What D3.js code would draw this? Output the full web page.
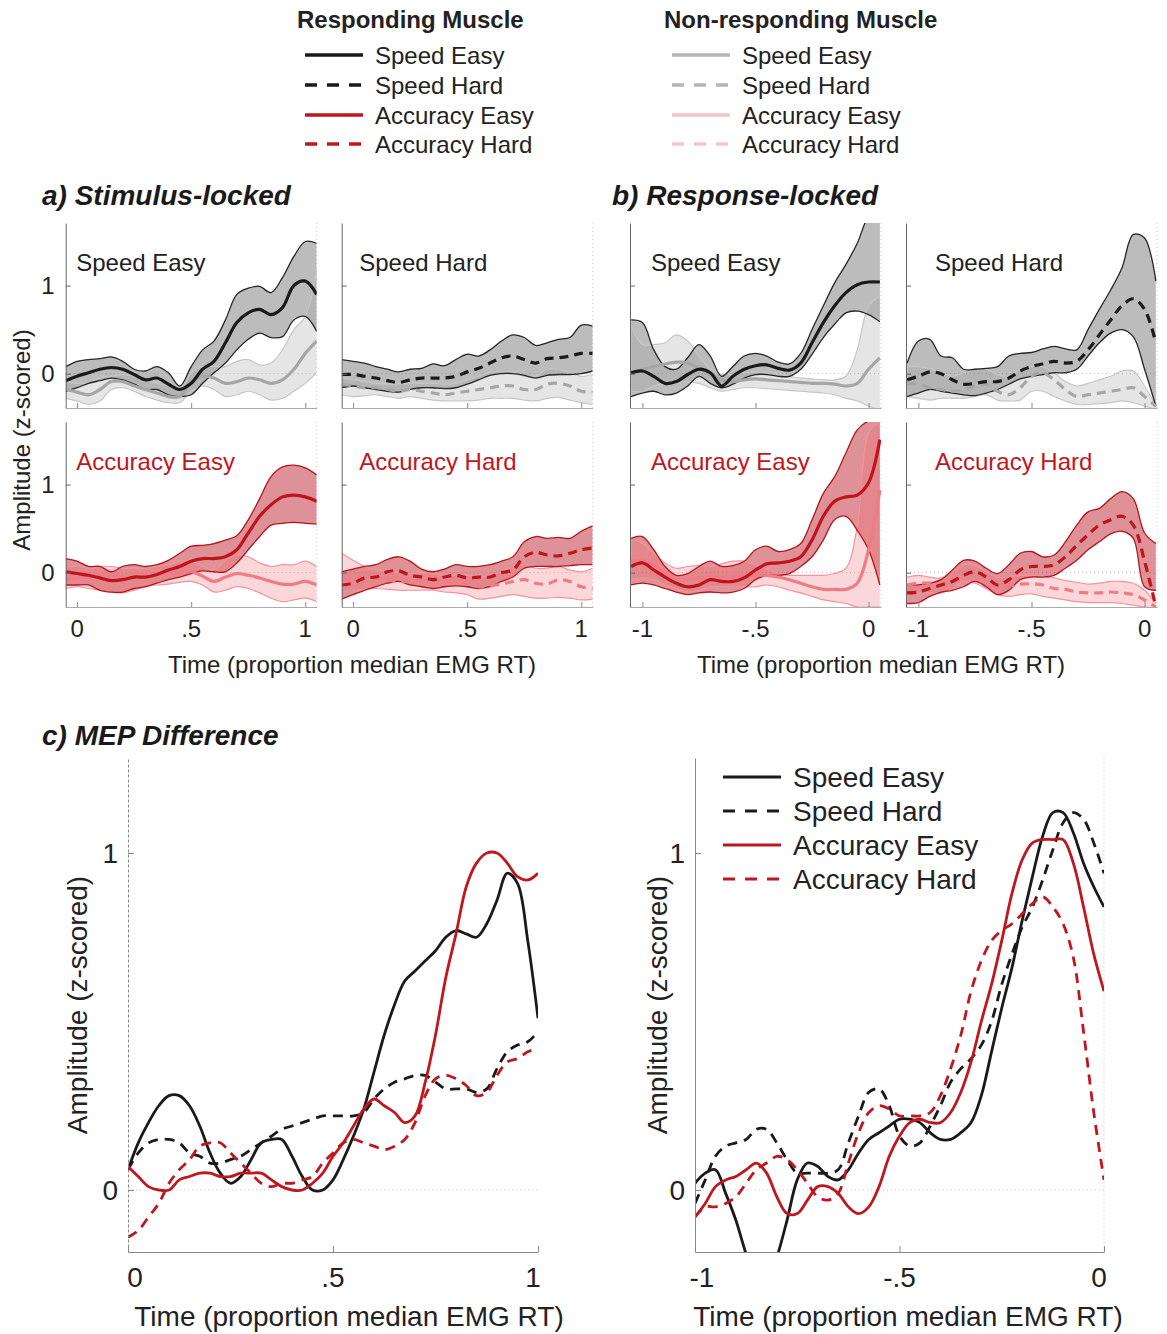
<!DOCTYPE html>
<html>
<head>
<meta charset="utf-8">
<script src="https://cdn.jsdelivr.net/npm/d3@7"></script>
<style>
  body { margin: 0; background: #fff; }
  svg { display: block; font-family: "Liberation Sans", Arial, Helvetica, sans-serif; }
</style>
</head>
<body>
<svg id="fig" width="1167" height="1334"></svg>
<script>
// ---- data ----
const conditions = ['Speed Easy', 'Speed Hard', 'Accuracy Easy', 'Accuracy Hard'];

// time grids (proportion of median EMG RT)
const tStim = [-0.05,0,0.05,0.1,0.15,0.2,0.25,0.3,0.35,0.4,0.45,0.5,0.55,0.6,0.65,0.7,0.75,0.8,0.85,0.9,0.95,1,1.05];
const tResp = [-1.05,-1,-0.95,-0.9,-0.85,-0.8,-0.75,-0.7,-0.65,-0.6,-0.55,-0.5,-0.45,-0.4,-0.35,-0.3,-0.25,-0.2,-0.15,-0.1,-0.05,0,0.05];

// a) stimulus-locked, speed easy
const aSEMean = [-0.08,-0.03,0.01,0.05,0.07,0.05,-0.01,-0.07,-0.05,-0.12,-0.18,-0.11,0.05,0.14,0.35,0.58,0.69,0.73,0.67,0.75,1.0,1.05,0.9];
const aSEHi   = [0.08,0.14,0.16,0.17,0.19,0.14,0.05,0.03,0.08,0.01,-0.14,0.08,0.27,0.37,0.61,0.9,0.97,0.99,0.92,1.09,1.33,1.5,1.48];
const aSELo   = [-0.2,-0.16,-0.11,-0.08,-0.05,-0.07,-0.12,-0.18,-0.18,-0.24,-0.26,-0.24,-0.11,0.01,0.12,0.27,0.39,0.46,0.41,0.42,0.61,0.65,0.48];
const aSENonMean = [-0.18,-0.21,-0.24,-0.18,-0.09,-0.09,-0.14,-0.18,-0.22,-0.26,-0.26,-0.09,-0.03,-0.05,-0.11,-0.09,-0.05,-0.07,-0.11,-0.07,0.05,0.23,0.37];
const aSENonHi   = [-0.09,-0.11,-0.11,-0.05,-0.03,-0.01,-0.03,-0.07,-0.11,-0.14,-0.18,0.01,0.08,0.08,0.08,0.14,0.16,0.1,0.12,0.27,0.5,0.65,1.18];
const aSENonLo   = [-0.28,-0.31,-0.35,-0.31,-0.18,-0.16,-0.2,-0.26,-0.3,-0.33,-0.33,-0.2,-0.14,-0.18,-0.26,-0.24,-0.2,-0.24,-0.3,-0.28,-0.2,-0.11,0.01];

// a) stimulus-locked, speed hard
const aSHMean = [-0.01,-0.01,-0.03,-0.05,-0.08,-0.1,-0.07,-0.05,-0.05,-0.05,-0.03,0.02,0.06,0.12,0.18,0.2,0.16,0.12,0.17,0.18,0.2,0.23,0.23];
const aSHHi   = [0.16,0.14,0.12,0.08,0.05,0.02,0.05,0.06,0.11,0.09,0.16,0.22,0.2,0.27,0.37,0.44,0.41,0.32,0.35,0.39,0.41,0.55,0.54];
const aSHLo   = [-0.16,-0.14,-0.16,-0.18,-0.2,-0.21,-0.18,-0.16,-0.16,-0.17,-0.16,-0.12,-0.07,-0.02,0,0,-0.02,-0.05,-0.02,-0.01,-0.01,0,0.03];
const aSHNonMean = [-0.12,-0.14,-0.16,-0.16,-0.18,-0.2,-0.18,-0.2,-0.22,-0.24,-0.22,-0.2,-0.18,-0.16,-0.14,-0.14,-0.18,-0.18,-0.12,-0.11,-0.14,-0.2,-0.21];
const aSHNonHi   = [-0.05,-0.07,-0.09,-0.11,-0.12,-0.12,-0.11,-0.11,-0.11,-0.12,-0.11,-0.07,-0.03,0.01,0.03,0.02,-0.03,-0.03,0.05,0.05,0.01,-0.03,-0.01];
const aSHNonLo   = [-0.24,-0.26,-0.25,-0.24,-0.26,-0.28,-0.26,-0.28,-0.3,-0.31,-0.31,-0.31,-0.3,-0.28,-0.28,-0.28,-0.3,-0.31,-0.28,-0.27,-0.3,-0.33,-0.35];

// a) stimulus-locked, accuracy easy
const aAEMean = [0.01,-0.01,-0.03,-0.06,-0.09,-0.08,-0.05,-0.05,-0.02,0.03,0.07,0.13,0.16,0.16,0.18,0.26,0.45,0.64,0.77,0.86,0.88,0.86,0.81];
const aAEHi   = [0.16,0.13,0.07,0.07,0.01,0.07,0.09,0.07,0.09,0.14,0.22,0.3,0.31,0.33,0.37,0.42,0.6,0.84,1.09,1.2,1.22,1.19,1.11];
const aAELo   = [-0.14,-0.14,-0.14,-0.2,-0.22,-0.22,-0.18,-0.16,-0.12,-0.08,-0.05,-0.01,0.02,0.01,0.01,0.11,0.26,0.41,0.54,0.56,0.57,0.56,0.55];
const aAENonMean = [-0.08,-0.06,-0.05,-0.03,-0.03,-0.05,-0.05,-0.03,-0.02,-0.01,0,0.01,-0.04,-0.1,-0.05,-0.01,-0.03,-0.06,-0.1,-0.13,-0.13,-0.1,-0.14];
const aAENonHi   = [0.07,0.07,0.05,0.07,0.07,0.05,0.05,0.05,0.07,0.09,0.13,0.13,0.07,0.03,0.14,0.2,0.18,0.11,0.07,0.09,0.09,0.13,0.07];
const aAENonLo   = [-0.18,-0.16,-0.18,-0.2,-0.22,-0.23,-0.2,-0.16,-0.14,-0.13,-0.11,-0.1,-0.14,-0.22,-0.2,-0.16,-0.18,-0.23,-0.29,-0.33,-0.31,-0.29,-0.33];

// a) stimulus-locked, accuracy hard
const aAHMean = [-0.14,-0.12,-0.06,-0.05,0.01,0.02,-0.03,-0.05,-0.08,-0.05,-0.03,-0.06,-0.05,-0.05,0,0.03,0.18,0.23,0.2,0.19,0.22,0.26,0.28];
const aAHHi   = [0.01,0.04,0.07,0.09,0.15,0.18,0.13,0.04,0.01,0.04,0.09,0.07,0.07,0.09,0.13,0.18,0.35,0.41,0.39,0.4,0.39,0.47,0.53];
const aAHLo   = [-0.3,-0.25,-0.2,-0.16,-0.12,-0.1,-0.14,-0.16,-0.18,-0.16,-0.15,-0.16,-0.18,-0.16,-0.1,-0.05,0.05,0.07,0.07,0.07,0.08,0.09,0.09];
const aAHNonMean = [-0.08,-0.06,-0.05,-0.06,-0.08,-0.1,-0.1,-0.08,-0.08,-0.1,-0.1,-0.12,-0.16,-0.15,-0.13,-0.1,-0.08,-0.12,-0.13,-0.08,-0.1,-0.16,-0.18];
const aAHNonHi   = [0.22,0.14,0.07,0.03,0.01,0,-0.01,0,-0.01,-0.03,-0.03,-0.03,-0.05,-0.03,0.01,0.07,0.09,0.05,0.05,0.07,0.03,0.01,0.05];
const aAHNonLo   = [-0.22,-0.2,-0.19,-0.18,-0.19,-0.2,-0.2,-0.2,-0.2,-0.22,-0.23,-0.25,-0.3,-0.29,-0.27,-0.25,-0.27,-0.29,-0.29,-0.28,-0.29,-0.31,-0.3];

// b) response-locked, speed easy
const bSEMean = [0.01,0.03,-0.03,-0.11,-0.09,-0.01,0.05,0.01,-0.14,-0.03,0.05,0.09,0.1,0.06,0.04,0.12,0.35,0.58,0.77,0.92,1.01,1.04,1.04];
const bSEHi   = [0.61,0.58,0.27,0.08,0.05,0.18,0.33,0.2,-0.03,0.08,0.2,0.23,0.2,0.13,0.11,0.23,0.5,0.77,1.03,1.24,1.48,1.79,1.9];
const bSELo   = [-0.26,-0.22,-0.2,-0.24,-0.22,-0.14,-0.03,-0.11,-0.16,-0.12,-0.05,-0.01,-0.01,-0.03,-0.03,0.05,0.22,0.41,0.56,0.69,0.71,0.67,0.59];
const bSENonMean = [0.01,0.05,0.08,0.11,0.13,0.12,0.06,-0.01,-0.07,-0.09,-0.07,-0.06,-0.07,-0.08,-0.09,-0.1,-0.11,-0.11,-0.12,-0.14,-0.11,0.05,0.18];
const bSENonHi   = [0.54,0.33,0.33,0.35,0.44,0.37,0.2,0.05,-0.01,-0.01,0.01,0.02,0.01,0,-0.03,-0.05,-0.06,-0.07,-0.07,-0.03,0.27,0.77,0.88];
const bSENonLo   = [-0.2,-0.2,-0.14,-0.11,-0.11,-0.09,-0.11,-0.16,-0.2,-0.18,-0.16,-0.16,-0.17,-0.18,-0.19,-0.2,-0.21,-0.22,-0.24,-0.28,-0.31,-0.37,-0.41];

// b) response-locked, speed hard
const bSHMean = [-0.07,-0.03,0.02,0,-0.07,-0.12,-0.11,-0.09,-0.09,-0.05,0.03,0.08,0.11,0.14,0.12,0.14,0.27,0.44,0.61,0.77,0.85,0.73,0.35];
const bSHHi   = [0.12,0.37,0.39,0.2,0.18,0.05,0.05,0.06,0.08,0.2,0.23,0.24,0.28,0.31,0.28,0.27,0.5,0.73,0.95,1.2,1.58,1.54,1.05];
const bSHLo   = [-0.26,-0.22,-0.18,-0.2,-0.22,-0.24,-0.25,-0.22,-0.18,-0.12,-0.06,-0.03,-0.01,0.01,0.01,0.05,0.2,0.35,0.46,0.5,0.42,0.05,-0.37];
const bSHNonMean = [-0.11,-0.12,-0.16,-0.18,-0.2,-0.18,-0.14,-0.12,-0.2,-0.24,-0.16,-0.03,0.01,-0.07,-0.18,-0.26,-0.24,-0.22,-0.2,-0.18,-0.16,-0.26,-0.37];
const bSHNonHi   = [0.08,0.08,0.06,0.01,-0.03,0.01,0.05,0.05,-0.01,-0.03,0.05,0.08,0.08,0.01,-0.09,-0.14,-0.11,-0.07,-0.03,0.03,0.03,-0.14,-0.37];
const bSHNonLo   = [-0.26,-0.28,-0.3,-0.28,-0.28,-0.28,-0.26,-0.24,-0.3,-0.31,-0.3,-0.2,-0.2,-0.26,-0.31,-0.35,-0.35,-0.34,-0.33,-0.31,-0.33,-0.37,-0.41];

// b) response-locked, accuracy easy
const bAEMean = [0.07,0.11,0.03,-0.05,-0.12,-0.16,-0.14,-0.08,-0.1,-0.1,-0.06,0.03,0.1,0.11,0.13,0.18,0.37,0.64,0.81,0.86,0.88,1.02,1.51];
const bAEHi   = [0.39,0.41,0.26,0.07,-0.03,-0.01,0.07,0.13,0.07,0.08,0.13,0.26,0.3,0.24,0.26,0.33,0.6,0.9,1.09,1.36,1.62,1.72,1.73];
const bAELo   = [-0.14,-0.12,-0.14,-0.18,-0.22,-0.25,-0.23,-0.22,-0.23,-0.22,-0.18,-0.08,-0.03,-0.03,-0.01,0.07,0.18,0.37,0.6,0.64,0.48,0.26,-0.14];
const bAENonMean = [0.13,0.14,0.09,-0.01,-0.06,-0.08,-0.06,-0.05,-0.05,-0.04,-0.03,-0.03,-0.03,-0.05,-0.08,-0.12,-0.16,-0.19,-0.19,-0.19,-0.12,0.26,0.94];
const bAENonHi   = [0.39,0.33,0.22,0.11,0.05,0.07,0.08,0.07,0.1,0.13,0.13,0.09,0.04,-0.01,-0.03,-0.03,-0.03,-0.03,-0.01,0.05,0.52,1.58,1.72];
const bAENonLo   = [-0.08,-0.06,-0.08,-0.14,-0.18,-0.22,-0.2,-0.16,-0.16,-0.16,-0.16,-0.16,-0.14,-0.16,-0.2,-0.23,-0.27,-0.31,-0.33,-0.35,-0.39,-0.39,-0.39];

// b) response-locked, accuracy hard
const bAHMean = [-0.23,-0.22,-0.18,-0.14,-0.1,-0.03,0.01,-0.05,-0.14,-0.08,0.03,0.07,0.07,0.09,0.18,0.31,0.43,0.54,0.6,0.64,0.54,0.13,-0.39];
const bAHHi   = [-0.14,-0.14,-0.12,-0.08,0.03,0.14,0.13,0.05,-0.01,0.09,0.22,0.24,0.18,0.2,0.35,0.54,0.69,0.73,0.84,0.92,0.84,0.45,0.33];
const bAHLo   = [-0.35,-0.34,-0.27,-0.22,-0.2,-0.16,-0.1,-0.16,-0.25,-0.2,-0.08,-0.05,-0.05,-0.03,0.05,0.14,0.26,0.35,0.44,0.47,0.39,-0.16,-0.2];
const bAHNonMean = [-0.14,-0.12,-0.12,-0.14,-0.08,-0.01,-0.01,-0.08,-0.16,-0.15,-0.13,-0.13,-0.14,-0.18,-0.19,-0.22,-0.23,-0.23,-0.22,-0.23,-0.25,-0.31,-0.39];
const bAHNonHi   = [-0.05,-0.03,-0.05,-0.06,0.01,0.09,0.08,0.01,-0.05,-0.05,-0.03,-0.03,-0.04,-0.06,-0.09,-0.11,-0.13,-0.12,-0.1,-0.1,-0.12,-0.2,-0.35];
const bAHNonLo   = [-0.25,-0.23,-0.23,-0.23,-0.18,-0.1,-0.12,-0.18,-0.25,-0.27,-0.25,-0.24,-0.27,-0.29,-0.31,-0.33,-0.34,-0.34,-0.34,-0.35,-0.37,-0.39,-0.41];

// c) MEP difference
const tMepStim = [0,0.025,0.05,0.075,0.1,0.125,0.15,0.175,0.2,0.225,0.25,0.275,0.3,0.325,0.35,0.375,0.4,0.425,0.45,0.475,0.5,0.525,0.55,0.575,0.6,0.625,0.65,0.675,0.7,0.725,0.75,0.775,0.8,0.825,0.85,0.875,0.9,0.925,0.95,0.975,1];
const tMepResp = [-1,-0.975,-0.95,-0.925,-0.9,-0.875,-0.85,-0.825,-0.8,-0.775,-0.75,-0.725,-0.7,-0.675,-0.65,-0.625,-0.6,-0.575,-0.55,-0.525,-0.5,-0.475,-0.45,-0.425,-0.4,-0.375,-0.35,-0.325,-0.3,-0.275,-0.25,-0.225,-0.2,-0.175,-0.15,-0.125,-0.1,-0.075,-0.05,-0.025,0];

const mepStimSpeedEasy = [0.06,0.14,0.2,0.25,0.28,0.28,0.25,0.19,0.11,0.05,0.02,0.04,0.09,0.14,0.15,0.15,0.1,0.04,0,0,0.03,0.09,0.16,0.24,0.35,0.46,0.55,0.62,0.65,0.68,0.71,0.75,0.77,0.76,0.75,0.79,0.86,0.94,0.91,0.74,0.51];
const mepStimSpeedHard = [0.06,0.11,0.14,0.15,0.15,0.14,0.11,0.1,0.08,0.08,0.09,0.1,0.12,0.14,0.16,0.18,0.19,0.2,0.21,0.22,0.22,0.22,0.22,0.23,0.27,0.3,0.32,0.33,0.34,0.34,0.32,0.3,0.3,0.3,0.29,0.3,0.36,0.41,0.43,0.44,0.47];
const mepStimAccEasy   = [0.07,0.04,0.01,0,0,0.03,0.04,0.05,0.05,0.04,0.04,0.05,0.05,0.05,0.03,0.01,0,0,0.02,0.05,0.1,0.14,0.19,0.24,0.27,0.25,0.23,0.2,0.22,0.32,0.46,0.63,0.76,0.9,0.97,1,1,0.97,0.93,0.92,0.94];
const mepStimAccHard   = [-0.14,-0.12,-0.08,-0.04,0.02,0.06,0.09,0.13,0.14,0.14,0.11,0.08,0.05,0.02,0.01,0.02,0.02,0.03,0.04,0.08,0.11,0.14,0.15,0.14,0.13,0.12,0.13,0.15,0.2,0.28,0.33,0.34,0.33,0.31,0.28,0.29,0.34,0.38,0.39,0.41,0.42];

const mepRespSpeedEasy = [0.02,0.05,0.06,-0.01,-0.09,-0.19,-0.27,-0.28,-0.2,-0.09,0.03,0.08,0.07,0.04,0.03,0.06,0.11,0.15,0.17,0.19,0.21,0.21,0.2,0.17,0.15,0.15,0.17,0.2,0.28,0.41,0.54,0.66,0.8,0.93,1.05,1.12,1.12,1.06,0.97,0.9,0.84];
const mepRespSpeedHard = [-0.04,0.03,0.1,0.13,0.14,0.15,0.18,0.18,0.14,0.09,0.05,0.05,0.05,0.05,0.06,0.14,0.22,0.29,0.3,0.25,0.16,0.13,0.14,0.19,0.25,0.32,0.36,0.39,0.43,0.5,0.61,0.7,0.78,0.84,0.92,1.01,1.09,1.12,1.1,1.03,0.94];
const mepRespAccEasy   = [-0.08,-0.04,0.01,0.03,0.04,0.06,0.08,0.05,-0.02,-0.07,-0.07,-0.03,0.01,0.01,-0.01,-0.05,-0.07,-0.05,0.01,0.1,0.16,0.2,0.21,0.2,0.2,0.23,0.29,0.38,0.5,0.61,0.74,0.88,0.98,1.03,1.04,1.04,1.04,0.97,0.84,0.7,0.59];
const mepRespAccHard   = [-0.08,-0.05,-0.05,-0.04,-0.02,0.02,0.06,0.08,0.1,0.09,0.06,0.02,-0.02,-0.03,-0.01,0.08,0.17,0.23,0.25,0.24,0.22,0.22,0.22,0.23,0.28,0.36,0.46,0.59,0.68,0.74,0.77,0.79,0.82,0.85,0.87,0.84,0.79,0.69,0.47,0.23,0.03];

// ---- styles ----
const yDomTop = [-0.39, 1.71];
const yDomMep = [-0.184, 1.282];
const RED = '#c0161e';
const palSpeed = { fill: 'rgba(95,95,95,0.42)', edge: '#262626', mean: '#1a1a1a',
  nFill: 'rgba(160,160,160,0.28)', nEdge: '#c6c6c6', nMean: '#a6a6a6', text: '#222' };
const palAcc = { fill: 'rgba(185,25,35,0.48)', edge: '#b3161f', mean: '#bf141d',
  nFill: 'rgba(240,110,120,0.28)', nEdge: '#f2939b', nMean: '#ef7b85', text: RED };
const DASH = '9,6';

const svg = d3.select('#fig');

class BandPanel {

  constructor(_config, _data) {
    this.config = {
      parentElement: _config.parentElement,
      left: _config.left,
      top: _config.top,
      containerWidth: _config.containerWidth || 251,
      containerHeight: _config.containerHeight || 185,
      xDomain: _config.xDomain,
      xTicks: _config.xTicks,
      xTickText: _config.xTickText,
      yTickText: _config.yTickText,
      label: _config.label,
      labelDx: _config.labelDx,
      pal: _config.pal,
      dashed: _config.dashed,
      id: _config.id
    }
    this.data = _data;
    this.initVis();
  }

  initVis() {
    let vis = this;
    vis.width = vis.config.containerWidth;
    vis.height = vis.config.containerHeight;

    vis.chart = d3.select(vis.config.parentElement).append('g')
      .attr('transform', `translate(${vis.config.left},${vis.config.top})`);

    vis.xScale = d3.scaleLinear().domain(vis.config.xDomain).range([0, vis.width]);
    vis.yScale = d3.scaleLinear().domain(yDomTop).range([vis.height, 0]);

    vis.xAxis = d3.axisBottom(vis.xScale).tickValues(vis.config.xTicks)
      .tickSize(-5).tickSizeOuter(0).tickFormat('');
    vis.yAxis = d3.axisLeft(vis.yScale).tickValues([0, 1])
      .tickSize(-5).tickSizeOuter(0).tickFormat('');

    vis.chart.append('clipPath').attr('id', vis.config.id)
      .append('rect').attr('width', vis.width).attr('height', vis.height);

    // one row per time sample
    let d = vis.data;
    vis.rows = d.t.map((t, i) => ({
      t: t, m: d.mean[i], lo: d.lo[i], hi: d.hi[i],
      nm: d.nMean[i], nlo: d.nLo[i], nhi: d.nHi[i]
    }));

    vis.curve = d3.curveCatmullRom.alpha(0.5);
    vis.renderVis();
  }

  renderVis() {
    let vis = this;
    let pal = vis.config.pal;
    let x = d => vis.xScale(d.t);
    let band = (lo, hi) => d3.area().x(x).y0(d => vis.yScale(d[lo])).y1(d => vis.yScale(d[hi])).curve(vis.curve);
    let line = key => d3.line().x(x).y(d => vis.yScale(d[key])).curve(vis.curve);

    // dotted zero line + dotted right edge
    vis.chart.append('line')
      .attr('x1', 0).attr('x2', vis.width)
      .attr('y1', vis.yScale(0)).attr('y2', vis.yScale(0))
      .attr('stroke', '#bdbdbd').attr('stroke-dasharray', '1,3');
    vis.chart.append('line')
      .attr('x1', vis.width).attr('x2', vis.width)
      .attr('y1', 0).attr('y2', vis.height)
      .attr('stroke', '#cfcfcf').attr('stroke-dasharray', '1,3');

    let g = vis.chart.append('g').attr('clip-path', `url(#${vis.config.id})`);

    g.append('path').datum(vis.rows).attr('d', band('lo', 'hi')).attr('fill', pal.fill);
    g.append('path').datum(vis.rows).attr('d', band('nlo', 'nhi')).attr('fill', pal.nFill);

    ['nlo', 'nhi'].forEach(k => {
      g.append('path').datum(vis.rows).attr('d', line(k))
        .attr('fill', 'none').attr('stroke', pal.nEdge).attr('stroke-width', 1.2);
    });
    ['lo', 'hi'].forEach(k => {
      g.append('path').datum(vis.rows).attr('d', line(k))
        .attr('fill', 'none').attr('stroke', pal.edge).attr('stroke-width', 1.3);
    });

    g.append('path').datum(vis.rows).attr('d', line('nm'))
      .attr('fill', 'none').attr('stroke', pal.nMean).attr('stroke-width', 3.2)
      .attr('stroke-dasharray', vis.config.dashed ? DASH : null);
    g.append('path').datum(vis.rows).attr('d', line('m'))
      .attr('fill', 'none').attr('stroke', pal.mean).attr('stroke-width', 3.2)
      .attr('stroke-dasharray', vis.config.dashed ? DASH : null);

    // axes
    vis.xAxisG = vis.chart.append('g')
      .attr('transform', `translate(0,${vis.height})`)
      .call(vis.xAxis);
    vis.xAxisG.select('.domain').attr('stroke', '#ababab');
    vis.xAxisG.selectAll('.tick line').attr('stroke', '#888');

    vis.yAxisG = vis.chart.append('g').call(vis.yAxis);
    vis.yAxisG.select('.domain').attr('stroke', '#666');
    vis.yAxisG.selectAll('.tick line').attr('stroke', '#666');

    vis.chart.append('text')
      .attr('x', vis.config.labelDx).attr('y', 48)
      .attr('font-size', 24).attr('fill', pal.text)
      .text(vis.config.label);

    if (vis.config.yTickText) {
      vis.chart.selectAll('.ylab').data([0, 1]).join('text')
        .attr('class', 'ylab')
        .attr('x', -11).attr('y', v => vis.yScale(v) + 8.5)
        .attr('text-anchor', 'end').attr('font-size', 24).attr('fill', '#222')
        .text(v => v);
    }
    if (vis.config.xTickText) {
      vis.chart.selectAll('.xlab').data(vis.config.xTicks).join('text')
        .attr('class', 'xlab')
        .attr('x', v => vis.xScale(v)).attr('y', vis.height + 30)
        .attr('text-anchor', 'middle').attr('font-size', 24).attr('fill', '#222')
        .text((v, i) => vis.config.xTickText[i]);
    }
  }
}

class MepPanel {

  constructor(_config, _data) {
    this.config = {
      parentElement: _config.parentElement,
      left: _config.left,
      top: _config.top,
      containerWidth: _config.containerWidth || 410,
      containerHeight: _config.containerHeight || 494,
      xDomain: _config.xDomain,
      xTicks: _config.xTicks,
      xTickText: _config.xTickText,
      dashedAxis: _config.dashedAxis,
      zeroVertical: _config.zeroVertical,
      id: _config.id
    }
    this.data = _data;
    this.initVis();
  }

  initVis() {
    let vis = this;
    vis.width = vis.config.containerWidth;
    vis.height = vis.config.containerHeight;

    vis.chart = d3.select(vis.config.parentElement).append('g')
      .attr('transform', `translate(${vis.config.left},${vis.config.top})`);

    vis.xScale = d3.scaleLinear().domain(vis.config.xDomain).range([0, vis.width]);
    vis.yScale = d3.scaleLinear().domain(yDomMep).range([vis.height, 0]);

    vis.xAxis = d3.axisBottom(vis.xScale).tickValues(vis.config.xTicks)
      .tickSize(-6).tickSizeOuter(0).tickFormat('');
    vis.yAxis = d3.axisLeft(vis.yScale).tickValues([0, 1])
      .tickSize(-6).tickSizeOuter(0).tickFormat('');

    vis.chart.append('clipPath').attr('id', vis.config.id)
      .append('rect').attr('width', vis.width).attr('height', vis.height);

    vis.line = d3.line()
      .x(d => vis.xScale(d[0]))
      .y(d => vis.yScale(d[1]))
      .curve(d3.curveCatmullRom.alpha(0.5));

    vis.renderVis();
  }

  renderVis() {
    let vis = this;

    vis.chart.append('line')
      .attr('x1', 0).attr('x2', vis.width)
      .attr('y1', vis.yScale(0)).attr('y2', vis.yScale(0))
      .attr('stroke', '#c8c8c8').attr('stroke-dasharray', '1,3');
    if (vis.config.zeroVertical) {
      vis.chart.append('line')
        .attr('x1', vis.width).attr('x2', vis.width)
        .attr('y1', 0).attr('y2', vis.height)
        .attr('stroke', '#bbb').attr('stroke-dasharray', '1,3');
    }

    let g = vis.chart.append('g').attr('clip-path', `url(#${vis.config.id})`);
    g.selectAll('.mep-line')
      .data(vis.data)
      .join('path')
      .attr('class', 'mep-line')
      .attr('d', s => vis.line(s.t.map((t, i) => [t, s.values[i]])))
      .attr('fill', 'none')
      .attr('stroke', s => s.color)
      .attr('stroke-width', 2.8)
      .attr('stroke-dasharray', s => s.dashed ? '10,7' : null);

    vis.xAxisG = vis.chart.append('g')
      .attr('transform', `translate(0,${vis.height})`)
      .call(vis.xAxis);
    vis.xAxisG.select('.domain').attr('stroke', '#888');
    vis.xAxisG.selectAll('.tick line').attr('stroke', '#888');

    vis.yAxisG = vis.chart.append('g').call(vis.yAxis);
    vis.yAxisG.select('.domain').attr('stroke', '#888')
      .attr('stroke-dasharray', vis.config.dashedAxis ? '3,2' : null);
    vis.yAxisG.selectAll('.tick line').attr('stroke', '#888');

    vis.chart.selectAll('.ylab').data([0, 1]).join('text')
      .attr('class', 'ylab')
      .attr('x', -10).attr('y', v => vis.yScale(v) + 10)
      .attr('text-anchor', 'end').attr('font-size', 28).attr('fill', '#222')
      .text(v => v);

    // first/last labels sit a little inside the ticks in the original
    let nudge = [7, 0, -5];
    vis.chart.selectAll('.xlab').data(vis.config.xTicks).join('text')
      .attr('class', 'xlab')
      .attr('x', (v, i) => vis.xScale(v) + nudge[i]).attr('y', vis.height + 35)
      .attr('text-anchor', 'middle').attr('font-size', 28).attr('fill', '#222')
      .text((v, i) => vis.config.xTickText[i]);
  }
}

// ---- top legend ----
const legRespColors = ['#1a1a1a', '#1a1a1a', RED, RED];
const legNonColors = ['#b5b5b5', '#b5b5b5', '#f6c3c8', '#f6c3c8'];
const legDashed = [false, true, false, true];
const legRowY = [55, 85, 115, 144];

function drawTopLegend(x, title, colors) {
  let g = svg.append('g');
  g.append('text').attr('x', x - 8).attr('y', 28)
    .attr('font-size', 24).attr('font-weight', 'bold').attr('fill', '#222')
    .text(title);
  conditions.forEach((c, i) => {
    g.append('line')
      .attr('x1', x).attr('x2', x + 58)
      .attr('y1', legRowY[i]).attr('y2', legRowY[i])
      .attr('stroke', colors[i]).attr('stroke-width', 3.5)
      .attr('stroke-dasharray', legDashed[i] ? '12,10' : null);
    g.append('text').attr('x', x + 70).attr('y', legRowY[i] + 8.5)
      .attr('font-size', 24).attr('fill', '#222').text(c);
  });
}
drawTopLegend(305, 'Responding Muscle', legRespColors);
drawTopLegend(672, 'Non-responding Muscle', legNonColors);

// ---- section titles ----
[['a) Stimulus-locked', 42, 205], ['b) Response-locked', 612, 205], ['c) MEP Difference', 42, 745]]
  .forEach(([s, x, y]) => {
    svg.append('text').attr('x', x).attr('y', y)
      .attr('font-size', 28).attr('font-weight', 'bold').attr('font-style', 'italic')
      .attr('fill', '#1a1a1a').text(s);
  });

// ---- small multiples (a, b) ----
const colLeft = [65.7, 341.7, 630, 906];
const colLabelDx = [10.5, 17.5, 21, 29];
const rowTop = [223, 422];
const stimDomain = [-0.05, 1.05];
const respDomain = [-1.055, 0.055];

const panelData = [
  { t: tStim, mean: aSEMean, lo: aSELo, hi: aSEHi, nMean: aSENonMean, nLo: aSENonLo, nHi: aSENonHi },
  { t: tStim, mean: aSHMean, lo: aSHLo, hi: aSHHi, nMean: aSHNonMean, nLo: aSHNonLo, nHi: aSHNonHi },
  { t: tResp, mean: bSEMean, lo: bSELo, hi: bSEHi, nMean: bSENonMean, nLo: bSENonLo, nHi: bSENonHi },
  { t: tResp, mean: bSHMean, lo: bSHLo, hi: bSHHi, nMean: bSHNonMean, nLo: bSHNonLo, nHi: bSHNonHi },
  { t: tStim, mean: aAEMean, lo: aAELo, hi: aAEHi, nMean: aAENonMean, nLo: aAENonLo, nHi: aAENonHi },
  { t: tStim, mean: aAHMean, lo: aAHLo, hi: aAHHi, nMean: aAHNonMean, nLo: aAHNonLo, nHi: aAHNonHi },
  { t: tResp, mean: bAEMean, lo: bAELo, hi: bAEHi, nMean: bAENonMean, nLo: bAENonLo, nHi: bAENonHi },
  { t: tResp, mean: bAHMean, lo: bAHLo, hi: bAHHi, nMean: bAHNonMean, nLo: bAHNonLo, nHi: bAHNonHi }
];

panelData.forEach((d, k) => {
  let row = k < 4 ? 0 : 1;
  let col = k % 4;
  let isStim = col < 2;
  new BandPanel({
    parentElement: '#fig',
    left: colLeft[col],
    top: rowTop[row],
    xDomain: isStim ? stimDomain : respDomain,
    xTicks: isStim ? [0, 0.5, 1] : [-1, -0.5, 0],
    xTickText: row === 1 ? (isStim ? ['0', '.5', '1'] : ['-1', '-.5', '0']) : null,
    yTickText: col === 0,
    label: conditions[row * 2 + (col % 2)],
    labelDx: colLabelDx[col],
    pal: row === 0 ? palSpeed : palAcc,
    dashed: col % 2 === 1,
    id: 'clipTop' + k
  }, d);
});

svg.append('text').attr('transform', 'translate(30,440) rotate(-90)')
  .attr('text-anchor', 'middle').attr('font-size', 24).attr('fill', '#222')
  .text('Amplitude (z-scored)');
[352, 881].forEach(cx => {
  svg.append('text').attr('x', cx).attr('y', 673)
    .attr('text-anchor', 'middle').attr('font-size', 24).attr('fill', '#222')
    .text('Time (proportion median EMG RT)');
});

// ---- c) MEP difference ----
const mepColors = ['#1a1a1a', '#1a1a1a', RED, RED];

new MepPanel({
  parentElement: '#fig', left: 128, top: 758,
  xDomain: [0, 1], xTicks: [0, 0.5, 1], xTickText: ['0', '.5', '1'],
  dashedAxis: true, zeroVertical: false, id: 'clipMep0'
}, [mepStimSpeedEasy, mepStimSpeedHard, mepStimAccEasy, mepStimAccHard]
  .map((v, i) => ({ t: tMepStim, values: v, color: mepColors[i], dashed: legDashed[i] })));

new MepPanel({
  parentElement: '#fig', left: 695, top: 758, containerWidth: 409,
  xDomain: [-1, 0], xTicks: [-1, -0.5, 0], xTickText: ['-1', '-.5', '0'],
  dashedAxis: false, zeroVertical: true, id: 'clipMep1'
}, [mepRespSpeedEasy, mepRespSpeedHard, mepRespAccEasy, mepRespAccHard]
  .map((v, i) => ({ t: tMepResp, values: v, color: mepColors[i], dashed: legDashed[i] })));

[[87, 1005], [667, 1005]].forEach(([x, y]) => {
  svg.append('text').attr('transform', `translate(${x},${y}) rotate(-90)`)
    .attr('text-anchor', 'middle').attr('font-size', 28).attr('fill', '#222')
    .text('Amplitude (z-scored)');
});
[349, 908].forEach(cx => {
  svg.append('text').attr('x', cx).attr('y', 1326)
    .attr('text-anchor', 'middle').attr('font-size', 28).attr('fill', '#222')
    .text('Time (proportion median EMG RT)');
});

// legend inside the right MEP panel
const mepLegY = [777, 811, 845, 879];
conditions.forEach((c, i) => {
  svg.append('line')
    .attr('x1', 723).attr('x2', 781)
    .attr('y1', mepLegY[i]).attr('y2', mepLegY[i])
    .attr('stroke', mepColors[i]).attr('stroke-width', 3)
    .attr('stroke-dasharray', legDashed[i] ? '12,10' : null);
  svg.append('text').attr('x', 793).attr('y', mepLegY[i] + 10)
    .attr('font-size', 28).attr('fill', '#222').text(c);
});
</script>
</body>
</html>
